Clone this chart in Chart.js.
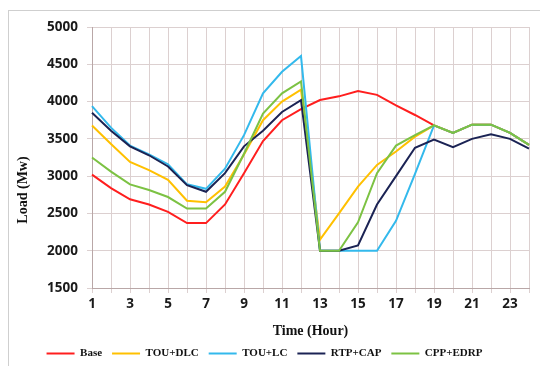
<!DOCTYPE html>
<html>
<head>
<meta charset="utf-8">
<title>Load (Mw)</title>
<script src="https://cdn.jsdelivr.net/npm/chart.js@4.4.1/dist/chart.umd.min.js"></script>
<style>
  html, body { margin: 0; padding: 0; background: #fff; }
  canvas { display: block; }
</style>
</head>
<body>
<canvas id="loadChart" width="540" height="366"></canvas>
<script>
// hours of the day (x axis categories)
const hours = ['1', '2', '3', '4', '5', '6', '7', '8', '9', '10', '11', '12',
               '13', '14', '15', '16', '17', '18', '19', '20', '21', '22', '23', '24'];

// load per hour for each scenario (Mw)
const baseLoad = [3020, 2840, 2690, 2620, 2520, 2370, 2370, 2620, 3040, 3470, 3750, 3900,
                  4020, 4070, 4140, 4090, 3950, 3820, 3680, 3580, 3690, 3690, 3580, 3420];
const touDlc   = [3680, 3430, 3190, 3080, 2950, 2670, 2650, 2860, 3290, 3750, 4000, 4160,
                  2150, 2500, 2860, 3150, 3330, 3530, 3680, 3580, 3690, 3690, 3580, 3420];
const touLc    = [3940, 3650, 3410, 3290, 3160, 2890, 2830, 3100, 3550, 4110, 4400, 4610,
                  2000, 2000, 2000, 2000, 2400, 3030, 3680, 3580, 3690, 3690, 3580, 3420];
const rtpCap   = [3850, 3610, 3400, 3280, 3130, 2880, 2790, 3040, 3400, 3610, 3860, 4020,
                  2000, 2000, 2070, 2620, 3000, 3380, 3490, 3390, 3500, 3560, 3500, 3370];
const cppEdrp  = [3250, 3060, 2890, 2815, 2720, 2565, 2565, 2790, 3300, 3840, 4110, 4270,
                  2000, 2000, 2380, 3040, 3410, 3550, 3680, 3580, 3690, 3690, 3580, 3420];

const yTicks = { min: 1500, max: 5000, step: 500 };

const gridColor = '#dcd0d0';
const axisColor = '#b9a7a7';
const tickFont = { family: '"Noto Sans", "Open Sans", sans-serif', size: 13.5, weight: 'bold' };
const serifBold = { family: '"Liberation Serif", "Times New Roman", serif', weight: 'bold' };

function series(label, data, color, order) {
    return {
        label: label,
        data: data,
        borderColor: color,
        backgroundColor: color,
        borderWidth: 2,
        pointRadius: 0,
        tension: 0,
        fill: false,
        order: order
    };
}

// thin frame round the figure and the rotated y title
const decorations = {
    id: 'decorations',
    beforeDraw(chart) {
        const ctx = chart.ctx;
        ctx.save();
        ctx.strokeStyle = '#cfcfcf';
        ctx.lineWidth = 1;
        ctx.strokeRect(8.5, 10.5, chart.width + 20, chart.height + 20);
        ctx.restore();
    },
    afterDraw(chart) {
        const ctx = chart.ctx;
        ctx.save();
        ctx.translate(23, 190);
        ctx.rotate(-Math.PI / 2);
        ctx.font = 'bold 14px "Liberation Serif", "Times New Roman", serif';
        ctx.fillStyle = '#111';
        ctx.textAlign = 'center';
        ctx.textBaseline = 'middle';
        ctx.fillText('Load (Mw)', 0, 0);
        ctx.restore();
    }
};

const ctx = document.getElementById('loadChart').getContext('2d');
const loadChart = new Chart(ctx, {
    type: 'line',
    data: {
        labels: hours,
        datasets: [
            series('Base', baseLoad, '#ff1e1e', 5),
            series('TOU+DLC', touDlc, '#ffc000', 4),
            series('TOU+LC', touLc, '#33b9ec', 3),
            series('RTP+CAP', rtpCap, '#1b2354', 2),
            series('CPP+EDRP', cppEdrp, '#7cc243', 1)
        ]
    },
    options: {
        responsive: false,
        animation: false,
        devicePixelRatio: 1,
        layout: { padding: { left: 0, top: 27, right: 11, bottom: 0 } },
        plugins: {
            tooltip: { enabled: false },
            legend: {
                position: 'bottom',
                maxHeight: 28,
                labels: {
                    usePointStyle: true,
                    pointStyle: 'line',
                    pointStyleWidth: 28,
                    padding: 10,
                    color: '#111',
                    font: Object.assign({ size: 11 }, serifBold),
                    sort: (a, b) => a.datasetIndex - b.datasetIndex
                }
            }
        },
        scales: {
            x: {
                type: 'category',
                offset: false,
                afterFit: scale => { scale.height = 50; },
                grid: { color: gridColor, tickLength: 5 },
                border: { color: axisColor },
                ticks: {
                    autoSkip: false,
                    maxRotation: 0,
                    padding: 3,
                    color: '#1a1a1a',
                    font: tickFont,
                    callback: (value, index) => index % 2 === 0 ? hours[index] : ''
                },
                title: {
                    display: true,
                    text: 'Time (Hour)',
                    color: '#111',
                    padding: { top: 0, bottom: 0 },
                    font: Object.assign({ size: 14, lineHeight: 1 }, serifBold)
                }
            },
            y: {
                min: yTicks.min,
                max: yTicks.max,
                afterFit: scale => { scale.width = 92; },
                grid: { color: gridColor, tickLength: 5 },
                border: { color: axisColor },
                ticks: {
                    stepSize: yTicks.step,
                    padding: 9,
                    color: '#1a1a1a',
                    font: tickFont,
                    callback: value => String(value)
                }
            }
        }
    },
    plugins: [decorations]
});
</script>
</body>
</html>
